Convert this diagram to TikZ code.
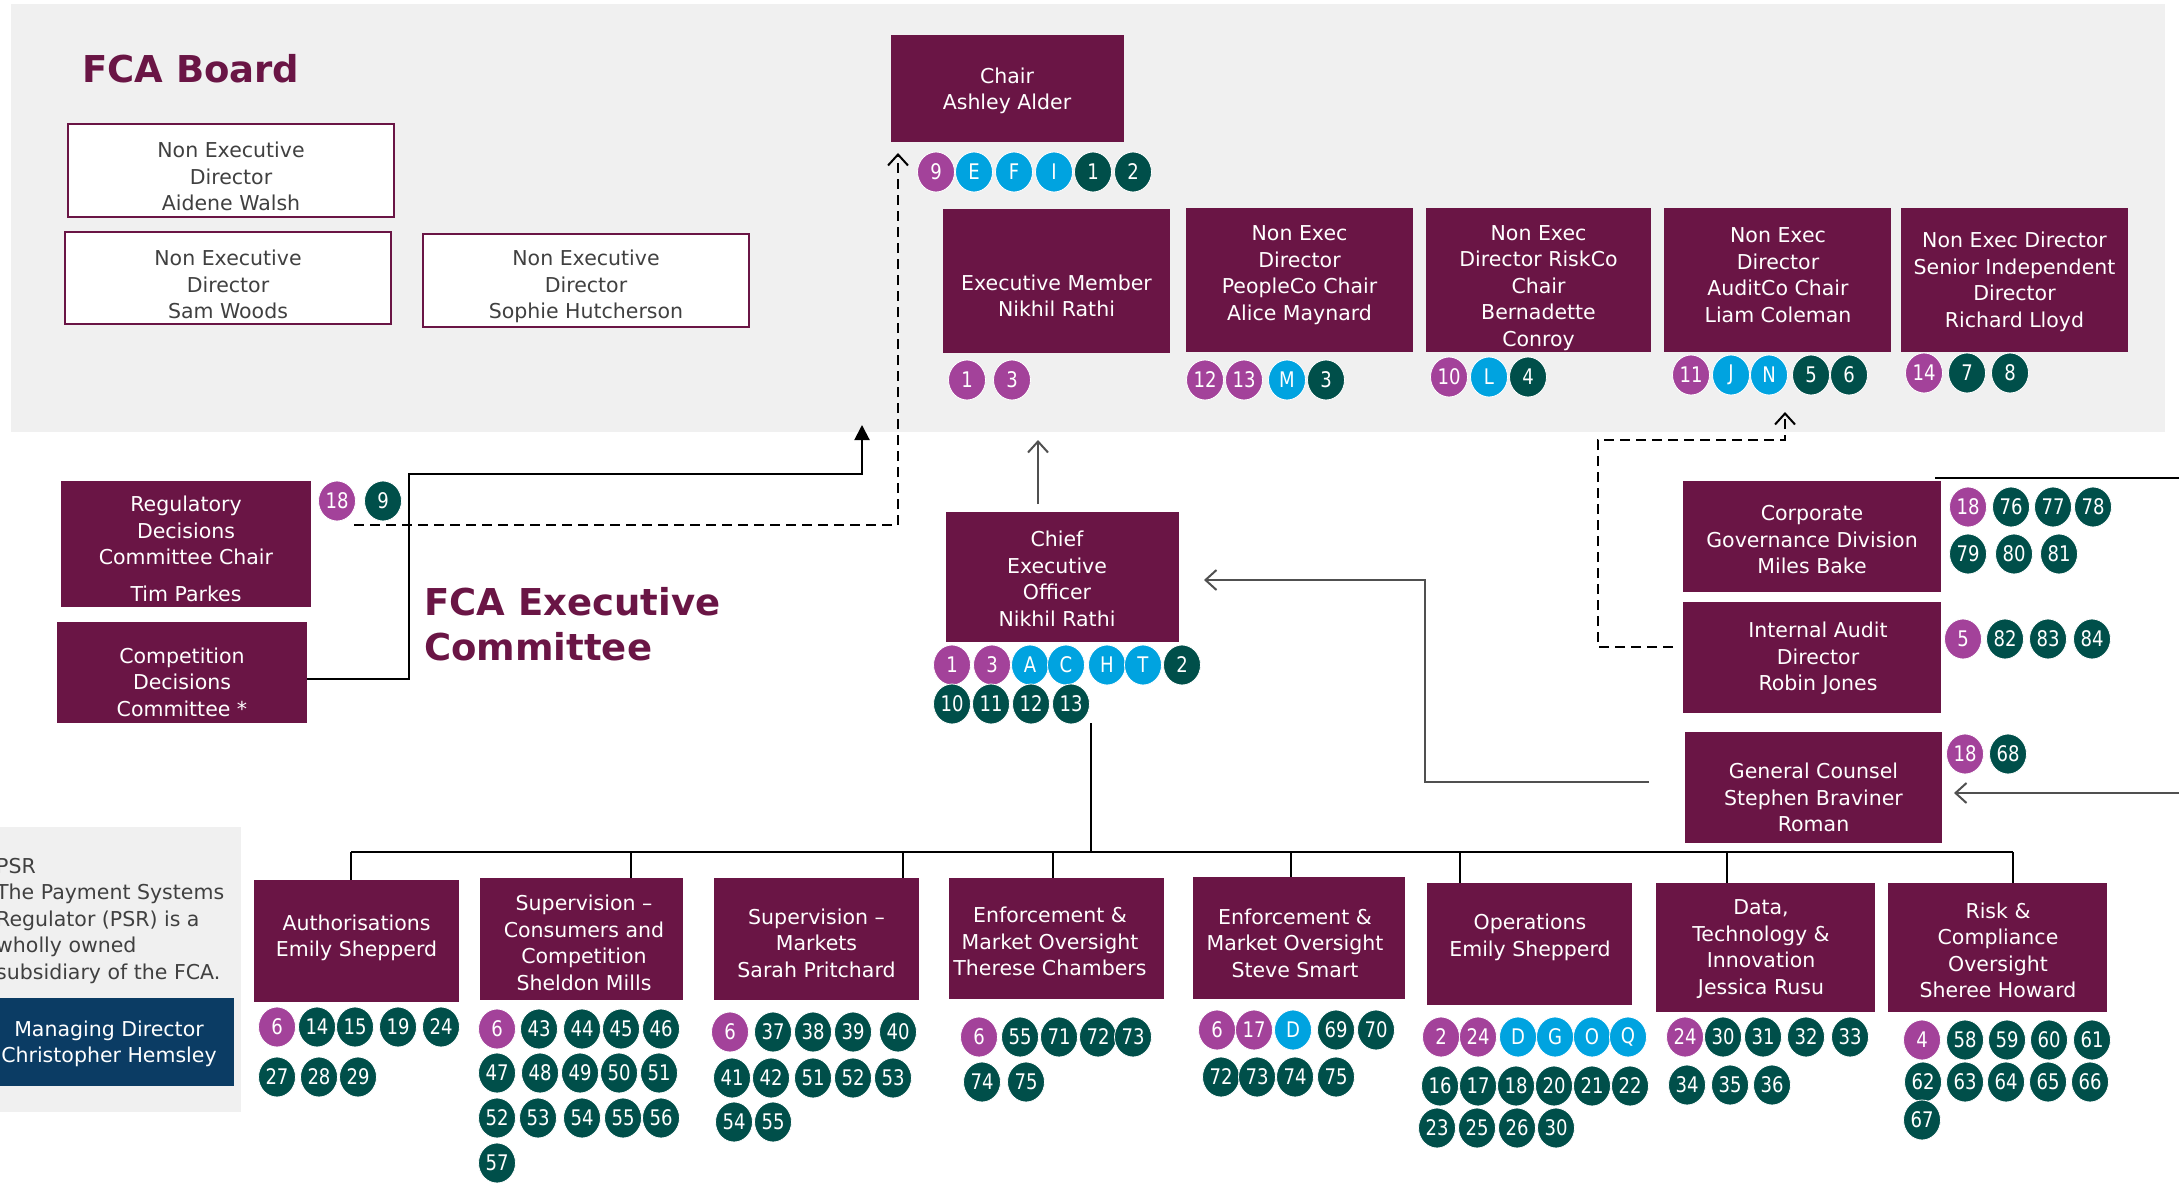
\documentclass[tikz,border=0pt]{standalone}
\usepackage{fontspec}
\setmainfont{DejaVu Sans}
\newfontfamily\badgefont{DejaVu Sans}[FakeStretch=0.84]
\usetikzlibrary{shapes.geometric,arrows.meta,calc}
\definecolor{fcapurple}{HTML}{6A1545}
\definecolor{panelgrey}{HTML}{F0F0F0}
\definecolor{txtgrey}{HTML}{404040}
\definecolor{bmag}{HTML}{A3429A}
\definecolor{bcyan}{HTML}{00A3E0}
\definecolor{bteal}{HTML}{004F4A}
\definecolor{psrblue}{HTML}{0B3C64}
\definecolor{linegrey}{HTML}{505050}
\newcommand{\orgbox}[9]{% style, name, x1,y1,x2,y2, text x, text y, text
  \node[#1, minimum width={#5-#3}, minimum height={#6-#4}] (#2) at ({(#3+#5)/2},{(#4+#6)/2}) {};
  \node[boxtext] (#2-t) at (#7,#8) {#9};}
\newcommand{\badgerow}[3]{%
  \foreach \bx/\bl/\bc [count=\bi] in {#3} {\node[badge,fill=\bc] (#1-\bi) at (\bx,#2) {\bl};}}
\begin{document}
\begin{tikzpicture}[x=1pt,y=-1pt,
  purplebox/.style={fill=fcapurple, draw=none, inner sep=0pt},
  nedbox/.style={fill=white, draw=fcapurple, line width=2.5pt, inner sep=0pt},
  bluebox/.style={fill=psrblue, draw=none, inner sep=0pt},
  boxtext/.style={text=white, align=center, inner sep=0pt, font=\fontsize{20.5}{26.5}\selectfont},
  nedtext/.style={boxtext, text=txtgrey},
  badge/.style={ellipse, minimum width=37pt, minimum height=40pt, inner sep=0pt, draw=white, line width=0.8pt, text=white, font=\badgefont\fontsize{21.5}{21.5}\selectfont},
  title/.style={text=fcapurple, font=\fontsize{37}{45}\selectfont\bfseries, align=left, inner sep=0pt, anchor=west},
  conn/.style={line width=2pt, black},
  greyconn/.style={line width=2pt, linegrey},
  dashconn/.style={line width=2.2pt, black, dash pattern=on 10pt off 6pt},
  barb/.style={-{Straight Barb[length=11pt,width=20pt,line width=2pt]}},
  fillarrow/.style={-{Triangle[length=15pt,width=15pt]}}
]
\useasboundingbox (0,0) rectangle (2179,1185);
\fill[white] (0,0) rectangle (2179,1185);
% panels
\fill[panelgrey] (11,4) rectangle (2165,432);
\fill[panelgrey] (-5,827) rectangle (241,1112);

% titles
\node[title] (boardtitle) at (82,69) {FCA Board};
\node[title] (exectitle) at (424,624) {FCA Executive\\Committee};

% NED boxes
\orgbox{nedbox}{ned1}{68}{124}{394}{217}{231}{176.5}{}
\node[nedtext] (ned1-t2) at (231,176.5) {Non Executive\\Director\\Aidene Walsh};
\orgbox{nedbox}{ned2}{65}{232}{391}{324}{228}{284.5}{}
\node[nedtext] (ned2-t2) at (228,284.5) {Non Executive\\Director\\Sam Woods};
\orgbox{nedbox}{ned3}{423}{234}{749}{327}{586}{286.5}{}
\node[nedtext] (ned3-t2) at (586,286.5) {Non Executive\\Director\\Sophie Hutcherson};

% board purple boxes
\orgbox{purplebox}{chair}{891}{35}{1124}{142}{1007}{91}{Chair\\Ashley Alder}
\orgbox{purplebox}{em}{943}{209}{1170}{353}{1056.5}{296}{Executive Member\\Nikhil Rathi}
\orgbox{purplebox}{people}{1186}{208}{1413}{352}{1299.5}{275}{Non Exec\\Director\\PeopleCo Chair\\Alice Maynard}
\orgbox{purplebox}{risk}{1426}{208}{1651}{352}{1538.5}{288}{Non Exec\\Director RiskCo\\Chair\\Bernadette\\Conroy}
\orgbox{purplebox}{audit}{1664}{208}{1891}{352}{1778}{275}{Non Exec\\Director\\AuditCo Chair\\Liam Coleman}
\orgbox{purplebox}{sid}{1901}{208}{2128}{352}{2014.5}{282}{Non Exec Director\\Senior Independent\\Director\\Richard Lloyd}

% committees
\orgbox{purplebox}{reg}{61}{481}{311}{607}{186}{549}{Regulatory\\Decisions\\Committee Chair\\[10pt]Tim Parkes}
\orgbox{purplebox}{comp}{57}{622}{307}{723}{182}{682}{Competition\\Decisions\\Committee *}

% CEO
\orgbox{purplebox}{ceo}{946}{512}{1179}{642}{1057}{579}{Chief\\Executive\\Officer\\Nikhil Rathi}

% right column
\orgbox{purplebox}{cgd}{1683}{481}{1941}{592}{1812}{540}{Corporate\\Governance Division\\Miles Bake}
\orgbox{purplebox}{ia}{1683}{602}{1941}{713}{1818}{658.5}{Internal Audit\\Director\\Robin Jones}
\orgbox{purplebox}{gc}{1685}{732}{1942}{843}{1813.5}{797.5}{General Counsel\\Stephen Braviner\\Roman}

% PSR
\node[nedtext, align=left, anchor=north west] (psr) at (-4,858) {PSR\\The Payment Systems\\Regulator (PSR) is a\\wholly owned\\subsidiary of the FCA.};
\orgbox{bluebox}{md}{-10}{998}{234}{1086}{109}{1044}{}
\node[boxtext] (md-t2) at (109,1044) {Managing Director\\Christopher Hemsley};

% bottom row
\orgbox{purplebox}{auth}{254}{880}{459}{1002}{356.5}{938}{Authorisations\\Emily Shepperd}
\orgbox{purplebox}{supc}{480}{878}{683}{1000}{584}{943}{Supervision --\\Consumers and\\Competition\\Sheldon Mills}
\orgbox{purplebox}{supm}{714}{878}{919}{1000}{816.5}{943}{Supervision --\\Markets\\Sarah Pritchard}
\orgbox{purplebox}{enfa}{949}{878}{1164}{999}{1050}{941.5}{Enforcement \&\\Market Oversight\\Therese Chambers}
\orgbox{purplebox}{enfb}{1193}{877}{1405}{999}{1295}{943}{Enforcement \&\\Market Oversight\\Steve Smart}
\orgbox{purplebox}{ops}{1427}{883}{1632}{1005}{1530}{937.5}{Operations\\Emily Shepperd}
\orgbox{purplebox}{data}{1656}{883}{1875}{1012}{1761}{949}{Data,\\Technology \&\\Innovation\\Jessica Rusu}
\orgbox{purplebox}{rco}{1888}{883}{2107}{1012}{1998}{950.5}{Risk \&\\Compliance\\Oversight\\Sheree Howard}

% badges
\badgerow{chairb}{172}{936/9/bmag, 974/E/bcyan, 1014/F/bcyan, 1054/I/bcyan, 1093/1/bteal, 1133/2/bteal}
\badgerow{emb}{380}{967/1/bmag, 1012/3/bmag}
\badgerow{peopleb}{380}{1205/12/bmag, 1244/13/bmag, 1287/M/bcyan, 1326/3/bteal}
\badgerow{riskb}{377}{1449/10/bmag, 1489/L/bcyan, 1528/4/bteal}
\badgerow{auditb}{375}{1691/11/bmag, 1731/J/bcyan, 1769/N/bcyan, 1811/5/bteal, 1849/6/bteal}
\badgerow{sidb}{373}{1924/14/bmag, 1967/7/bteal, 2010/8/bteal}
\badgerow{regb}{501}{337/18/bmag, 383/9/bteal}
\badgerow{ceob}{665}{952/1/bmag, 992/3/bmag, 1030/A/bcyan, 1066/C/bcyan, 1107/H/bcyan, 1143/T/bcyan, 1182/2/bteal}
\badgerow{ceoc}{704}{952/10/bteal, 991/11/bteal, 1031/12/bteal, 1071/13/bteal}
\badgerow{cgdb}{507}{1968/18/bmag, 2011/76/bteal, 2053/77/bteal, 2093/78/bteal}
\badgerow{cgdc}{554}{1968/79/bteal, 2014/80/bteal, 2059/81/bteal}
\badgerow{iab}{639}{1963/5/bmag, 2005/82/bteal, 2048/83/bteal, 2092/84/bteal}
\badgerow{gcb}{754}{1965/18/bmag, 2008/68/bteal}
\badgerow{authb}{1027}{277/6/bmag, 317/14/bteal, 355/15/bteal, 398/19/bteal, 441/24/bteal}
\badgerow{authc}{1077}{277/27/bteal, 319/28/bteal, 358/29/bteal}
\badgerow{supcb}{1029}{497/6/bmag, 539/43/bteal, 582/44/bteal, 621/45/bteal, 661/46/bteal}
\badgerow{supcc}{1073}{497/47/bteal, 540/48/bteal, 580/49/bteal, 619/50/bteal, 659/51/bteal}
\badgerow{supcd}{1118}{497/52/bteal, 538/53/bteal, 582/54/bteal, 623/55/bteal, 661/56/bteal}
\badgerow{supce}{1163}{497/57/bteal}
\badgerow{supmb}{1032}{730/6/bmag, 773/37/bteal, 813/38/bteal, 853/39/bteal, 898/40/bteal}
\badgerow{supmc}{1078}{732/41/bteal, 771/42/bteal, 813/51/bteal, 853/52/bteal, 893/53/bteal}
\badgerow{supmd}{1122}{734/54/bteal, 773/55/bteal}
\badgerow{enfab}{1037}{979/6/bmag, 1020/55/bteal, 1059/71/bteal, 1098/72/bteal, 1133/73/bteal}
\badgerow{enfac}{1082}{982/74/bteal, 1026/75/bteal}
\badgerow{enfbb}{1030}{1217/6/bmag, 1254/17/bmag, 1293/D/bcyan, 1336/69/bteal, 1376/70/bteal}
\badgerow{enfbc}{1077}{1221/72/bteal, 1257/73/bteal, 1295/74/bteal, 1336/75/bteal}
\badgerow{opsb}{1037}{1441/2/bmag, 1478/24/bmag, 1518/D/bcyan, 1555/G/bcyan, 1592/O/bcyan, 1628/Q/bcyan}
\badgerow{opsc}{1086}{1440/16/bteal, 1478/17/bteal, 1516/18/bteal, 1554/20/bteal, 1592/21/bteal, 1630/22/bteal}
\badgerow{opsd}{1128}{1437/23/bteal, 1477/25/bteal, 1517/26/bteal, 1556/30/bteal}
\badgerow{datab}{1037}{1685/24/bmag, 1723/30/bteal, 1763/31/bteal, 1806/32/bteal, 1850/33/bteal}
\badgerow{datac}{1085}{1687/34/bteal, 1730/35/bteal, 1772/36/bteal}
\badgerow{rcob}{1040}{1922/4/bmag, 1965/58/bteal, 2007/59/bteal, 2049/60/bteal, 2092/61/bteal}
\badgerow{rcoc}{1082}{1923/62/bteal, 1965/63/bteal, 2006/64/bteal, 2048/65/bteal, 2090/66/bteal}
\badgerow{rcod}{1120}{1922/67/bteal}

% connector coordinates
\coordinate (regdash) at (354,525);
\coordinate (chairin) at (898,153);
\coordinate (compout) at (307,679);
\coordinate (boardin) at (862,425);
\coordinate (ceoup) at (1038,504);
\coordinate (emin) at (1038,440);
\coordinate (gcout) at (1649,782);
\coordinate (ceoin) at (1204,580);
\coordinate (rightfeed) at (2185,793);
\coordinate (gcin) at (1954,793);
\coordinate (topright) at (1935,478);
\coordinate (toprightend) at (2185,478);
\coordinate (iaout) at (1673,647);
\coordinate (auditin) at (1785,412);
\coordinate (ceodown) at (1091,723);
\coordinate (busl) at (351,852);
\coordinate (busr) at (2013,852);
\coordinate (busc) at (1091,852);

% connectors
\draw[dashconn, barb] (regdash) -| (chairin);
\draw[conn, fillarrow] (compout) -- (409,679) |- (862,474) -- (boardin);
\draw[greyconn, barb] (ceoup) -- (emin);
\draw[greyconn, barb] (gcout) -- (1425,782) |- (ceoin);
\draw[greyconn, barb] (rightfeed) -- (gcin);
\draw[conn] (topright) -- (toprightend);
\draw[dashconn, barb] (iaout) -- (1598,647) |- (1785,440) -- (auditin);

% CEO tree
\draw[conn] (ceodown) -- (busc);
\draw[conn] (busl) -- (busr);
\foreach \dx/\bn in {351/auth, 631/supc, 903/supm, 1053/enfa, 1291/enfb, 1460/ops, 1727/data, 2013/rco} {
  \coordinate (drop-\bn) at (\dx,852);
  \draw[conn] (drop-\bn) -- (drop-\bn |- \bn.north);
}
\end{tikzpicture}
\end{document}
